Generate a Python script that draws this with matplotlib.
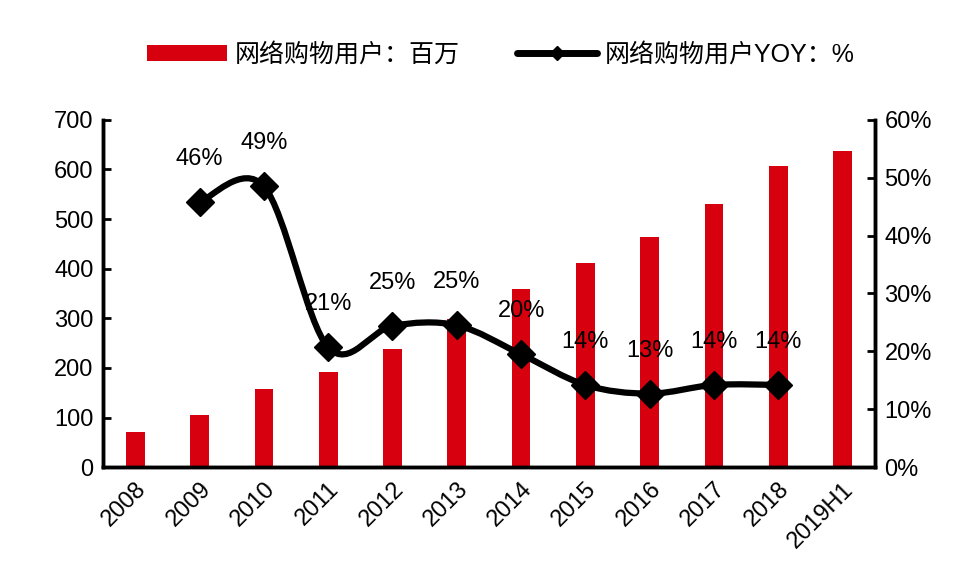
import matplotlib
matplotlib.use("Agg")
import matplotlib.pyplot as plt
import numpy as np
from matplotlib.lines import Line2D
from matplotlib.patches import Patch, PathPatch
from matplotlib.path import Path

plt.rcParams["font.family"] = ["Liberation Sans", "Noto Sans CJK SC", "DejaVu Sans"]

years = ["2008", "2009", "2010", "2011", "2012", "2013", "2014",
         "2015", "2016", "2017", "2018", "2019H1"]
users = [71, 106, 158, 191, 239, 299, 359, 411, 464, 531, 607, 637]

yoy_years = years[1:11]
yoy = [45.8, 48.5, 20.7, 24.4, 24.5, 19.5, 14.2, 12.7, 14.2, 14.2]
yoy_labels = ["46%", "49%", "21%", "25%", "25%", "20%", "14%", "13%", "14%", "14%"]

RED = "#D7000F"
FS = 17


def smooth_path(xs, ys):
    # Catmull-Rom style bezier, like the "smoothed line" option in office charts
    pts = np.column_stack([xs, ys]).astype(float)
    verts = [pts[0]]
    codes = [Path.MOVETO]
    n = len(pts)
    for i in range(n - 1):
        p0 = pts[i - 1] if i > 0 else pts[i]
        p1 = pts[i]
        p2 = pts[i + 1]
        p3 = pts[i + 2] if i + 2 < n else pts[i + 1]
        c1 = p1 + (p2 - p0) / 6.0
        c2 = p2 - (p3 - p1) / 6.0
        verts += [c1, c2, p2]
        codes += [Path.CURVE4] * 3
    return Path(verts, codes)


fig = plt.figure(figsize=(9.73, 5.76), dpi=100)
ax = fig.add_axes([0.106, 0.189, 0.793, 0.603])
ax2 = ax.twinx()

x = np.arange(len(years))
ax.bar(x, users, width=0.29, color=RED, zorder=2)
ax.set_xlim(-0.5, len(years) - 0.5)
ax.set_ylim(0, 700)
ax.set_yticks(range(0, 701, 100))
ax.set_xticks(x)
ax.set_xticklabels(years, rotation=45, ha="right", rotation_mode="anchor", fontsize=FS)
ax.tick_params(axis="x", length=0, pad=8)
ax.tick_params(axis="y", direction="in", length=6, width=2, labelsize=FS, pad=7)

xl = np.array([years.index(y) for y in yoy_years])
ax2.set_ylim(0, 60)
ax2.set_yticks(range(0, 61, 10))
ax2.set_yticklabels([f"{v}%" for v in range(0, 61, 10)])
ax2.tick_params(axis="y", direction="in", length=6, width=2, labelsize=FS, pad=7)

ax2.add_patch(PathPatch(smooth_path(xl, yoy), fill=False, edgecolor="black",
                        lw=4.5, capstyle="round", joinstyle="round", zorder=3))
ax2.plot(xl, yoy, ls="none", marker="D", markersize=14, color="black", zorder=4)
for xi, v, lab in zip(xl, yoy, yoy_labels):
    ax2.annotate(lab, (xi, v), xytext=(0, 31), textcoords="offset points",
                 ha="center", va="center", fontsize=FS, zorder=5)

for a in (ax, ax2):
    a.spines["top"].set_visible(False)
    for s in ("left", "right", "bottom"):
        a.spines[s].set_linewidth(2.5)

handles = [
    Patch(facecolor=RED, edgecolor="none"),
    Line2D([0], [0], color="black", lw=5, marker="D", markersize=7,
           solid_capstyle="round"),
]
labels = ["网络购物用户：百万", "网络购物用户YOY：%"]
fig.legend(handles, labels, loc="upper center", bbox_to_anchor=(0.515, 0.965),
           ncol=2, frameon=False, fontsize=18, handlelength=3.2, handleheight=0.6,
           columnspacing=2.3, handletextpad=0.3)

fig.savefig("out.png", dpi=100)
